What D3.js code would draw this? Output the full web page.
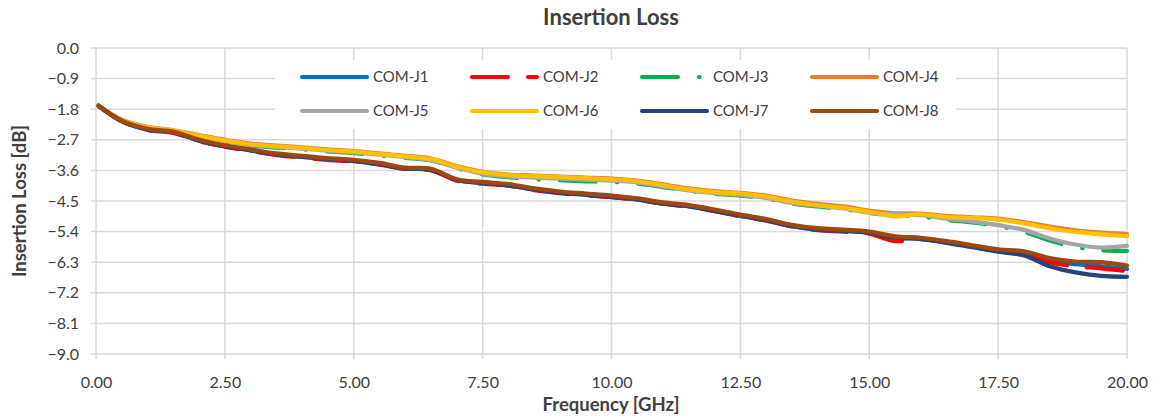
<!DOCTYPE html>
<html>
<head>
<meta charset="utf-8">
<script src="https://cdn.jsdelivr.net/npm/d3@7"></script>
<style>
  body { margin: 0; background: #fff; }
  svg text { font-family: Lato, "Open Sans", sans-serif; fill: #404040; }
</style>
</head>
<body>
<svg id="chart" width="1153" height="418"></svg>
<script>
// frequency points [GHz]
var freqs = [0.05, 0.5, 1, 1.5, 2, 2.5, 3, 3.5, 4, 4.5, 5, 5.5, 6, 6.5, 7, 7.5, 8, 8.5, 9, 9.5,
  10, 10.5, 11, 11.5, 12, 12.5, 13, 13.5, 14, 14.5, 15, 15.5, 16, 16.5, 17, 17.5, 18, 18.5, 19, 19.5, 20];

var seriesNames = ["COM-J1", "COM-J2", "COM-J3", "COM-J4", "COM-J5", "COM-J6", "COM-J7", "COM-J8"];

// insertion loss [dB], one array per port
var lossJ1 = [-1.70,-2.15,-2.40,-2.48,-2.73,-2.89,-3.01,-3.13,-3.20,-3.27,-3.32,-3.41,-3.55,-3.58,-3.88,-3.97,-4.03,-4.16,-4.25,-4.31,-4.37,-4.45,-4.57,-4.65,-4.78,-4.93,-5.06,-5.23,-5.33,-5.37,-5.43,-5.57,-5.61,-5.71,-5.83,-5.95,-6.02,-6.25,-6.36,-6.42,-6.50];
var lossJ2 = [-1.71,-2.16,-2.41,-2.50,-2.74,-2.90,-3.03,-3.15,-3.22,-3.29,-3.34,-3.43,-3.56,-3.60,-3.90,-3.99,-4.05,-4.18,-4.27,-4.33,-4.39,-4.47,-4.58,-4.67,-4.80,-4.95,-5.08,-5.25,-5.36,-5.40,-5.46,-5.68,-5.62,-5.72,-5.85,-5.97,-6.04,-6.30,-6.42,-6.48,-6.56];
var lossJ3 = [-1.70,-2.13,-2.35,-2.44,-2.60,-2.75,-2.86,-2.93,-2.98,-3.04,-3.09,-3.16,-3.23,-3.31,-3.53,-3.72,-3.80,-3.86,-3.89,-3.92,-3.94,-3.99,-4.09,-4.20,-4.29,-4.34,-4.43,-4.58,-4.66,-4.74,-4.86,-4.92,-4.96,-5.06,-5.13,-5.24,-5.40,-5.66,-5.85,-5.95,-5.97];
var lossJ4 = [-1.70,-2.11,-2.32,-2.42,-2.56,-2.70,-2.81,-2.87,-2.92,-2.98,-3.03,-3.10,-3.17,-3.25,-3.47,-3.64,-3.72,-3.75,-3.78,-3.81,-3.84,-3.90,-4.01,-4.13,-4.21,-4.26,-4.34,-4.49,-4.58,-4.66,-4.78,-4.86,-4.87,-4.94,-4.98,-5.02,-5.12,-5.25,-5.36,-5.43,-5.47];
var lossJ5 = [-1.70,-2.12,-2.34,-2.44,-2.59,-2.73,-2.85,-2.91,-2.96,-3.02,-3.07,-3.14,-3.21,-3.30,-3.52,-3.70,-3.78,-3.81,-3.84,-3.87,-3.90,-3.95,-4.07,-4.19,-4.27,-4.32,-4.41,-4.56,-4.64,-4.72,-4.84,-4.88,-4.92,-5.02,-5.10,-5.21,-5.35,-5.60,-5.78,-5.87,-5.82];
var lossJ6 = [-1.70,-2.12,-2.33,-2.43,-2.58,-2.72,-2.83,-2.89,-2.94,-3.00,-3.05,-3.12,-3.19,-3.27,-3.49,-3.66,-3.74,-3.77,-3.80,-3.83,-3.86,-3.92,-4.04,-4.16,-4.24,-4.28,-4.37,-4.52,-4.62,-4.70,-4.82,-4.95,-4.89,-4.97,-5.00,-5.05,-5.16,-5.30,-5.41,-5.48,-5.53];
var lossJ7 = [-1.70,-2.15,-2.40,-2.48,-2.73,-2.89,-3.01,-3.13,-3.20,-3.27,-3.33,-3.42,-3.55,-3.58,-3.88,-3.97,-4.04,-4.17,-4.26,-4.32,-4.38,-4.46,-4.58,-4.66,-4.79,-4.94,-5.07,-5.24,-5.34,-5.38,-5.44,-5.58,-5.62,-5.73,-5.86,-5.99,-6.10,-6.42,-6.60,-6.70,-6.73];
var lossJ8 = [-1.70,-2.14,-2.38,-2.46,-2.70,-2.86,-2.98,-3.10,-3.17,-3.24,-3.29,-3.38,-3.52,-3.55,-3.86,-3.94,-4.00,-4.13,-4.22,-4.28,-4.34,-4.42,-4.54,-4.62,-4.75,-4.90,-5.03,-5.20,-5.30,-5.34,-5.40,-5.54,-5.58,-5.68,-5.80,-5.92,-5.98,-6.18,-6.28,-6.30,-6.40];

var xTicks = [0, 2.5, 5, 7.5, 10, 12.5, 15, 17.5, 20];
var yTicks = [0, -0.9, -1.8, -2.7, -3.6, -4.5, -5.4, -6.3, -7.2, -8.1, -9.0];

var lossData = [lossJ1, lossJ2, lossJ3, lossJ4, lossJ5, lossJ6, lossJ7, lossJ8];
var colors = ["#0070C0", "#FF0000", "#00B050", "#ED7D31", "#A5A5A5", "#FFC000", "#264478", "#9E480E"];
var dashes = [null, "36,20", "36,21,0.5,21", null, null, null, null, null];

var svg = d3.select("#chart"),
  plot = {left: 96, right: 1127, top: 48, bottom: 354};

var x = d3.scaleLinear().domain([0, 20]).range([plot.left, plot.right]);
var y = d3.scaleLinear().domain([-9, 0]).range([plot.bottom, plot.top]);

//gridlines
var grid = svg.append("g").attr("class", "grid");
grid.selectAll("line.h").data(yTicks).enter().append("line")
  .attr("x1", plot.left - 5).attr("x2", plot.right)
  .attr("y1", d => y(d)).attr("y2", d => y(d))
  .attr("stroke", "#D9D9D9").attr("stroke-width", 1.5);
grid.selectAll("line.v").data(xTicks).enter().append("line")
  .attr("x1", d => x(d)).attr("x2", d => x(d))
  .attr("y1", plot.top).attr("y2", plot.bottom + 5)
  .attr("stroke", "#D9D9D9").attr("stroke-width", 1.5);

//axes (labels only, lines come from the grid)
var xAxis = svg.append("g").attr("transform", "translate(0," + (plot.bottom + 5) + ")")
  .call(d3.axisBottom(x).tickValues(xTicks).tickFormat(d3.format(".2f")).tickSize(0).tickPadding(18));
var yAxis = svg.append("g").attr("transform", "translate(" + (plot.left - 5) + ",0)")
  .call(d3.axisLeft(y).tickValues(yTicks).tickFormat(d3.format(".1f")).tickSize(0).tickPadding(12));
[xAxis, yAxis].forEach(function(a) {
  a.select(".domain").remove();
  a.selectAll("text").style("font-size", "16px").style("fill", "#404040")
    .style("font-family", "Lato, 'Open Sans', sans-serif");
});

//legend background
svg.append("rect").attr("x", 275).attr("y", 60).attr("width", 681).attr("height", 69).attr("fill", "#fff");

//series
var line = d3.line()
  .x((d, i) => x(freqs[i]))
  .y(d => y(d))
  .curve(d3.curveCatmullRom.alpha(0.5));

svg.append("g").selectAll("path").data(lossData).enter().append("path")
  .attr("d", d => line(d))
  .attr("fill", "none")
  .attr("stroke", (d, i) => colors[i])
  .attr("stroke-width", 4.2)
  .attr("stroke-linecap", "round")
  .attr("stroke-linejoin", "round")
  .attr("stroke-dasharray", (d, i) => dashes[i]);

//legend
var legend = svg.append("g").selectAll("g").data(seriesNames).enter().append("g")
  .attr("transform", (d, i) => "translate(" + (302 + (i % 4) * 170) + "," + (77 + Math.floor(i / 4) * 34) + ")");
legend.append("line")
  .attr("x1", 0).attr("x2", 65).attr("y1", 0).attr("y2", 0)
  .attr("stroke", (d, i) => colors[i])
  .attr("stroke-width", 4.2)
  .attr("stroke-linecap", "round")
  .attr("stroke-dasharray", (d, i) => dashes[i]);
legend.append("text")
  .attr("x", 71).attr("y", 0).attr("dy", "0.36em")
  .style("font-size", "15px")
  .text(d => d);

//titles
svg.append("text").attr("x", 611).attr("y", 25).attr("text-anchor", "middle")
  .style("font-size", "22px").style("font-weight", "bold").text("Insertion Loss");
svg.append("text").attr("x", 611).attr("y", 411).attr("text-anchor", "middle")
  .style("font-size", "18.5px").style("font-weight", "bold").text("Frequency [GHz]");
svg.append("text").attr("transform", "translate(26,201) rotate(-90)").attr("text-anchor", "middle")
  .style("font-size", "18.5px").style("font-weight", "bold").text("Insertion Loss [dB]");
</script>
</body>
</html>
